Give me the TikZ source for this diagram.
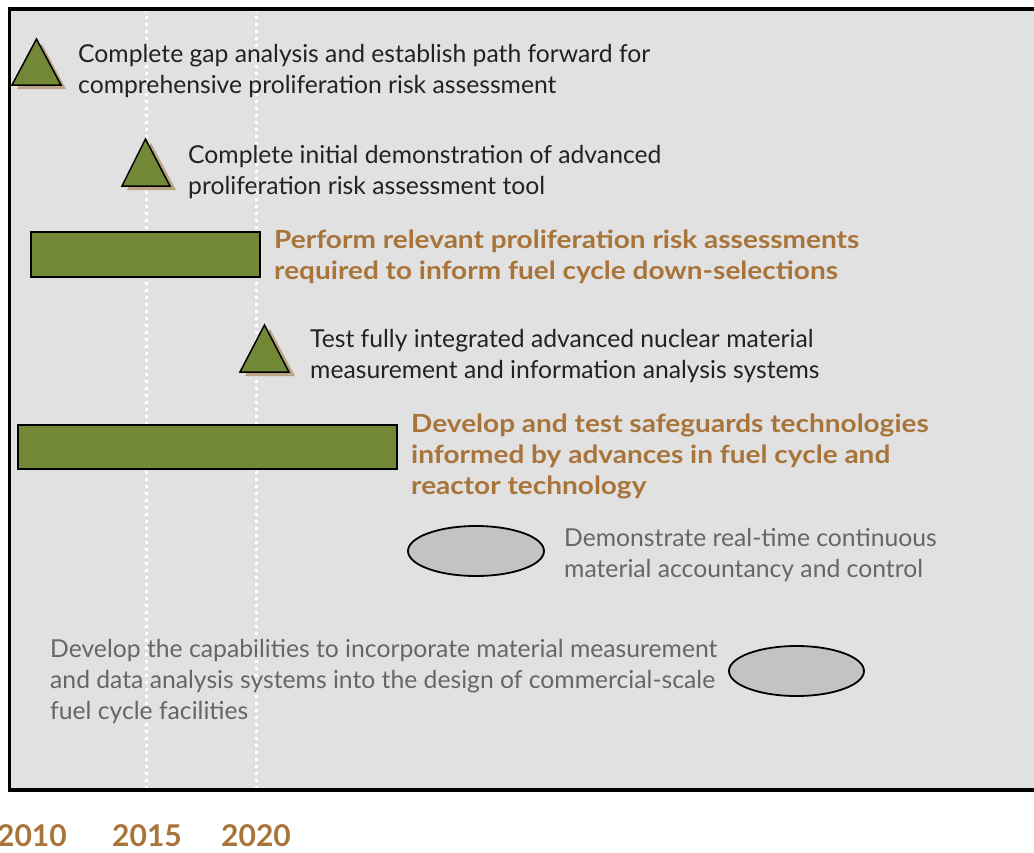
\documentclass[tikz,border=0pt]{standalone}
\usepackage{fontspec}
\setmainfont{Lato}
\newfontfamily\hlfont[FakeStretch=1.12]{Lato Bold}
\definecolor{bg}{HTML}{E0E1E0}
\definecolor{olive}{HTML}{738837}
\definecolor{brn}{HTML}{A8743A}
\definecolor{shad}{HTML}{B79D7C}
\definecolor{txt}{HTML}{222222}
\definecolor{gtxt}{HTML}{666666}
\definecolor{ellfill}{HTML}{C3C3C3}
\tikzset{
  body/.style={anchor=base west, inner sep=0pt, align=left, font=\fontsize{24.7}{31}\selectfont},
  blk/.style={body, text=txt},
  hl/.style={body, text=brn, font=\fontsize{25}{31}\hlfont},
  gry/.style={body, text=gtxt},
  bar/.style={draw=black, line width=1.5pt, fill=olive},
  tri/.style={draw=black, line width=1.5pt, fill=olive, line join=miter},
  trishadow/.style={fill=shad, draw=none, opacity=0.9},
  ell/.style={draw=black, line width=1.8pt, fill=ellfill},
  year/.style={anchor=base, inner sep=0pt, text=brn, font=\fontsize{30}{30}\selectfont\bfseries},
  guide/.style={draw=white, line width=3pt, dash pattern=on 3pt off 4pt}
}
\begin{document}
\begin{tikzpicture}[x=1pt,y=-1pt]
\useasboundingbox (0,0) rectangle (1034,852);
% panel
\fill[bg] (9.5,9) rectangle (1040,790);
\draw[guide] (146,9) -- (146,790);
\draw[guide] (256,9) -- (256,790);
\draw[black, line width=3.5pt] (1040,9) -- (9.5,9) -- (9.5,790) -- (1040,790);
% triangles
\fill[trishadow] (17,89) -- (66,89) -- (42,44) -- cycle;
\draw[tri] (12,85) -- (61,85) -- (36.5,39) -- cycle;
\fill[trishadow] (127,190) -- (176,190) -- (151,143) -- cycle;
\draw[tri] (122,186) -- (170,186) -- (145.5,139) -- cycle;
\fill[trishadow] (245,376) -- (295,376) -- (270,329) -- cycle;
\draw[tri] (240,372) -- (289,372) -- (264.5,325) -- cycle;
% bars
\draw[bar] (31,232) rectangle (260,277);
\draw[bar] (18,425) rectangle (397,469);
% ellipses
\draw[ell] (476,551) ellipse [x radius=68, y radius=25];
\draw[ell] (796.5,671) ellipse [x radius=67.5, y radius=25];
% texts (anchor = baseline of last line)
\node[blk] (t1) at (78,93) {Complete gap analysis and establish path forward for\\comprehensive proliferation risk assessment};
\node[blk] (t2) at (188,194) {Complete initial demonstration of advanced\\proliferation risk assessment tool};
\node[hl] (t3) at (274,279) {Perform relevant proliferation risk assessments\\required to inform fuel cycle down-selections};
\node[blk] (t4) at (310,378) {Test fully integrated advanced nuclear material\\measurement and information analysis systems};
\node[hl] (t5) at (411,494) {Develop and test safeguards technologies\\informed by advances in fuel cycle and\\reactor technology};
\node[gry] (t6) at (564,577) {Demonstrate real-time continuous\\material accountancy and control};
\node[gry] (t7) at (50,719) {Develop the capabilities to incorporate material measurement\\and data analysis systems into the design of commercial-scale\\fuel cycle facilities};
% years
\node[year] (y1) at (32,846) {2010};
\node[year] (y2) at (147,846) {2015};
\node[year] (y3) at (256,846) {2020};
\end{tikzpicture}
\end{document}
